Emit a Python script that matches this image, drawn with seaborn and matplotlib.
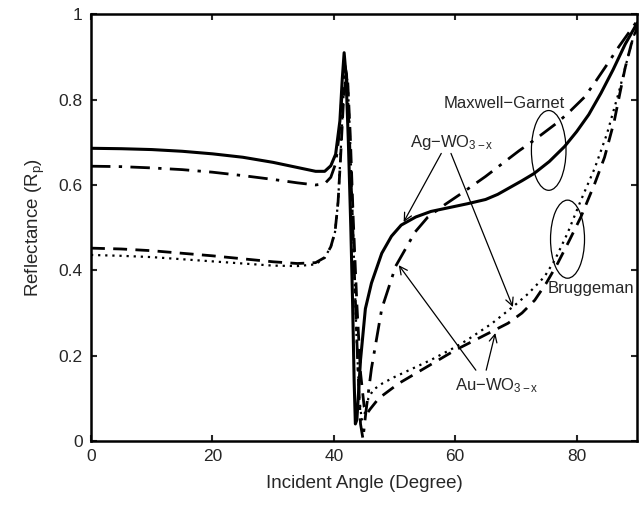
import numpy as np
import pandas as pd
import matplotlib
matplotlib.use("Agg")
import matplotlib.pyplot as plt
import seaborn as sns
from matplotlib.patches import Ellipse

# ---- data ----
ag_mg_angle = [0, 5, 10, 15, 20, 25, 30, 34, 37, 38.5, 39.5, 40.3, 41.0, 41.4, 41.7, 42.0,
               42.4, 42.8, 43.1, 43.35, 43.55, 43.8, 44.4, 45.2, 46.2, 47.9, 49.5, 51.1,
               53.5, 56, 60, 62, 65, 67, 69, 71, 73, 75.5, 78, 80, 82, 84, 86, 88, 90]
ag_mg_r = [0.686, 0.685, 0.683, 0.679, 0.673, 0.665, 0.653, 0.641, 0.632, 0.632, 0.645,
           0.672, 0.75, 0.85, 0.91, 0.86, 0.70, 0.50, 0.32, 0.14, 0.04, 0.05, 0.19, 0.31,
           0.37, 0.44, 0.48, 0.506, 0.525, 0.538, 0.55, 0.556, 0.566, 0.578, 0.594, 0.61,
           0.627, 0.655, 0.69, 0.725, 0.765, 0.815, 0.87, 0.93, 0.98]

au_mg_angle = [0, 5, 10, 15, 20, 25, 30, 34, 37, 38.5, 39.5, 40.3, 40.9, 41.4, 41.8, 42.1,
               42.5, 43.0, 43.5, 44.0, 44.4, 44.8, 45.3, 46.2, 47.9, 50.2, 53.4, 55.5,
               58.4, 61, 63, 65, 68.2, 70.5, 73, 77, 79, 81.3, 83, 85, 87, 88.5, 90]
au_mg_r = [0.644, 0.643, 0.640, 0.636, 0.630, 0.622, 0.613, 0.605, 0.600, 0.603, 0.618,
           0.65, 0.72, 0.82, 0.88, 0.86, 0.74, 0.55, 0.35, 0.16, 0.04, 0.005, 0.07, 0.17,
           0.31, 0.41, 0.49, 0.525, 0.555, 0.58, 0.60, 0.62, 0.655, 0.68, 0.705, 0.748,
           0.774, 0.806, 0.84, 0.882, 0.925, 0.955, 0.985]

au_br_angle = [0, 5, 10, 15, 20, 25, 30, 34, 37, 38.5, 39.5, 40.2, 40.7, 41.1, 41.6, 42.0,
               42.3, 42.7, 43.2, 43.8, 44.4, 45.0, 45.5, 46.0, 47.4, 50.7, 54.4, 60, 64.3,
               68.7, 71, 73.1, 75, 76.9, 78.8, 80.7, 83, 84.6, 86.2, 87.2, 88, 89, 90]
au_br_r = [0.452, 0.450, 0.446, 0.440, 0.434, 0.427, 0.420, 0.416, 0.418, 0.43, 0.455,
           0.49, 0.56, 0.66, 0.80, 0.85, 0.84, 0.72, 0.52, 0.32, 0.16, 0.08, 0.065, 0.075,
           0.10, 0.135, 0.166, 0.213, 0.244, 0.276, 0.30, 0.33, 0.37, 0.417, 0.47, 0.525,
           0.604, 0.665, 0.75, 0.82, 0.875, 0.93, 0.97]

ag_br_angle = [0, 5, 10, 15, 20, 25, 30, 34, 37, 38.5, 39.5, 40.2, 40.7, 41.1, 41.6, 42.0,
               42.3, 42.7, 43.2, 43.7, 44.2, 44.6, 45.0, 45.7, 46.5, 48, 50, 53, 56, 60,
               62, 66, 69.8, 72, 74.7, 76.4, 78.5, 80.7, 83, 85, 87, 89, 90]
ag_br_r = [0.436, 0.434, 0.431, 0.426, 0.421, 0.416, 0.411, 0.410, 0.414, 0.43, 0.455,
           0.49, 0.56, 0.67, 0.81, 0.86, 0.84, 0.70, 0.48, 0.26, 0.10, 0.05, 0.06, 0.10,
           0.12, 0.135, 0.15, 0.17, 0.19, 0.22, 0.237, 0.275, 0.318, 0.345, 0.385, 0.424,
           0.487, 0.564, 0.64, 0.72, 0.82, 0.93, 0.975]

x_ticks = [0, 20, 40, 60, 80]
y_ticks = [0, 0.2, 0.4, 0.6, 0.8, 1]
y_tick_labels = ["0", "0.2", "0.4", "0.6", "0.8", "1"]

# ---- style ----
sns.set_style("white")
plt.rcParams["font.family"] = ["Liberation Sans", "DejaVu Sans"]
plt.rcParams["mathtext.fontset"] = "custom"
plt.rcParams["mathtext.rm"] = "Liberation Sans"
plt.rcParams["mathtext.it"] = "Liberation Sans"

fig = plt.figure(figsize=(6.39, 5.05), dpi=100)
ax = fig.add_axes([0.1424, 0.1267, 0.855, 0.845])

lw = 2.0
sns.lineplot(x=ag_mg_angle, y=ag_mg_r, ax=ax, color="black", lw=2.2, linestyle="-", sort=False)
sns.lineplot(x=au_mg_angle, y=au_mg_r, ax=ax, color="black", lw=lw, sort=False,
             dashes=False).lines[-1].set_dashes([7, 3, 1.2, 3])
sns.lineplot(x=au_br_angle, y=au_br_r, ax=ax, color="black", lw=lw, sort=False,
             dashes=False).lines[-1].set_dashes([5, 3])
sns.lineplot(x=ag_br_angle, y=ag_br_r, ax=ax, color="black", lw=1.6, sort=False,
             dashes=False).lines[-1].set_dashes([1, 2.2])

ax.set_xlim(0, 90)
ax.set_ylim(0, 1)
ax.set_xticks(x_ticks)
ax.set_yticks(y_ticks)
ax.set_yticklabels(y_tick_labels)
ax.tick_params(direction="in", length=4, width=1.5, labelsize=12.5, top=True, right=True,
               bottom=True, left=True, pad=6)
for s in ax.spines.values():
    s.set_linewidth(1.8)
    s.set_color("black")
    s.set_visible(True)

ax.set_xlabel("Incident Angle (Degree)", fontsize=13.5, labelpad=8)
ax.set_ylabel(r"Reflectance (R$_{\rm p}$)", fontsize=13.5, labelpad=8)

# annotations
fs = 12
ax.text(68.0, 0.79, "Maxwell\u2212Garnet", fontsize=fs, ha="center", va="center")
ax.text(82.3, 0.358, "Bruggeman", fontsize=fs, ha="center", va="center")
ax.text(52.6, 0.70, r"Ag$-$WO$_{\rm 3-x}$", fontsize=fs, ha="left", va="center")
ax.text(60.0, 0.13, r"Au$-$WO$_{\rm 3-x}$", fontsize=fs, ha="left", va="center")

ax.add_patch(Ellipse((75.4, 0.681), 5.7, 0.187, fill=False, lw=0.9, color="black"))
ax.add_patch(Ellipse((78.5, 0.473), 5.6, 0.183, fill=False, lw=0.9, color="black"))

arr = dict(arrowstyle="->", lw=0.9, color="black", mutation_scale=14, shrinkA=0, shrinkB=0)
ax.annotate("", xy=(51.5, 0.513), xytext=(57.7, 0.674), arrowprops=arr)
ax.annotate("", xy=(69.5, 0.314), xytext=(59.3, 0.674), arrowprops=arr)
ax.annotate("", xy=(50.7, 0.412), xytext=(63.4, 0.166), arrowprops=arr)
ax.annotate("", xy=(66.6, 0.253), xytext=(65.1, 0.166), arrowprops=arr)

fig.savefig("out.png", dpi=100)
